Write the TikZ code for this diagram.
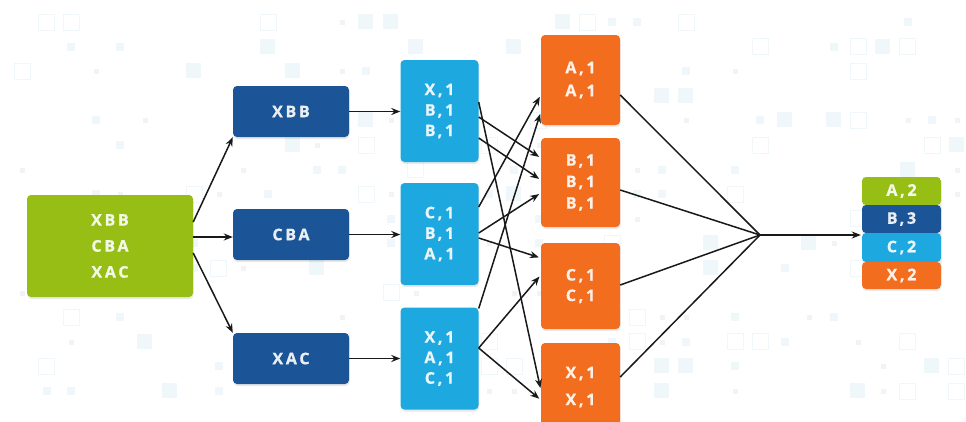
\documentclass[tikz,border=0pt]{standalone}
\usepackage{fontspec}
\setmainfont{Open Sans}
\newfontfamily\boxfont[LetterSpace=17, BoldFeatures={FakeBold=0.6}]{Open Sans}
\usetikzlibrary{arrows.meta,shadows}

\definecolor{mrgreen}{HTML}{96BE14}
\definecolor{mrnavy}{HTML}{1B5597}
\definecolor{mrsky}{HTML}{1DA8E0}
\definecolor{mrorange}{HTML}{F36D1F}
\definecolor{tilesky}{HTML}{EFF7FB}
\definecolor{tilegray}{HTML}{F2F3F4}

\tikzset{
  softshadow/.style={drop shadow={shadow xshift=0.5pt, shadow yshift=-2pt,
      opacity=0.12, fill=black!70}},
  box/.style={rounded corners=4pt, inner sep=0pt, align=center,
    text=white, text opacity=0.9,
    font=\boxfont\bfseries\fontsize{16}{20.5}\selectfont, softshadow},
  srcbox/.style={box, fill=mrgreen, minimum width=166pt, minimum height=102pt},
  wordbox/.style={box, fill=mrnavy, minimum width=116pt, minimum height=51pt},
  mapbox/.style={box, fill=mrsky, minimum width=78pt, minimum height=102pt},
  keybox/.style={box, fill=mrorange, minimum width=79pt},
  lbl/.style={inner sep=0pt, text=white, text opacity=0.9,
    font=\boxfont\bfseries\fontsize{16}{20.5}\selectfont},
  wire/.style={draw=black!90, line width=1.5pt},
  conn/.style={wire, -{Stealth[length=9pt,width=7pt]}},
  cross/.style={conn, shorten >=2pt},
}

\begin{document}
\begin{tikzpicture}[x=1pt,y=-1pt]
\clip (0,0) rectangle (966,421);
\fill[white] (0,0) rectangle (966,421);

% faint tiled backdrop
\pgfmathsetseed{314}
\foreach \i in {0,...,38}{
  \foreach \j in {0,...,15}{
    \pgfmathrandominteger{\r}{0}{13}
    \pgfmathsetmacro{\px}{14+\i*24.6}
    \pgfmathsetmacro{\py}{14+\j*24.6}
    \ifnum\r=0 \fill[tilesky] (\px,\py) rectangle ++(15,15);\fi
    \ifnum\r=1 \fill[tilegray] (\px+6,\py+6) rectangle ++(5,5);\fi
    \ifnum\r=2 \draw[tilesky,line width=1pt] (\px,\py) rectangle ++(16,16);\fi
    \ifnum\r=3 \fill[tilesky] (\px+4,\py+4) rectangle ++(8,8);\fi
  }
}

% input
\node[srcbox] (src) at (110,246) {XBB\\[5.5pt]CBA\\[5.5pt]XAC};

% split records
\node[wordbox] (d1) at (291,111.5) {XBB};
\node[wordbox] (d2) at (291,234.5) {CBA};
\node[wordbox] (d3) at (291,358.5) {XAC};

% map output
\node[mapbox] (m1) at (439.5,111) {X,1\\B,1\\B,1};
\node[mapbox] (m2) at (439.5,234) {C,1\\B,1\\A,1};
\node[mapbox] (m3) at (439.5,358.5) {X,1\\A,1\\C,1};

% shuffled groups
\node[keybox, minimum height=90pt] (k1) at (580.5,80) {A,1\\[2.5pt]A,1};
\node[keybox, minimum height=89pt] (k2) at (580.5,182.5) {B,1\\[1pt]B,1\\[1pt]B,1};
\node[keybox, minimum height=86pt] (k3) at (580.5,286) {C,1\\C,1};
\node[keybox, minimum height=88pt] (k4) at (580.5,387) {X,1\\[6.5pt]X,1};

% reduced result
\node[rounded corners=4pt, minimum width=79pt, minimum height=112pt, inner sep=0pt,
  softshadow,
  path picture={
    \fill[mrgreen] (path picture bounding box.north west) rectangle ([yshift=-28pt]path picture bounding box.north east);
    \fill[mrnavy] ([yshift=-28pt]path picture bounding box.north west) rectangle ([yshift=-56pt]path picture bounding box.north east);
    \fill[mrsky] ([yshift=-56pt]path picture bounding box.north west) rectangle ([yshift=-85pt]path picture bounding box.north east);
    \fill[mrorange] ([yshift=-85pt]path picture bounding box.north west) rectangle (path picture bounding box.south east);
  }] (res) at (901.5,233) {};
\node[lbl] (r1) at (901.5,191) {A,2};
\node[lbl] (r2) at (901.5,219) {B,3};
\node[lbl] (r3) at (901.5,247.5) {C,2};
\node[lbl] (r4) at (901.5,275.5) {X,2};

% split
\draw[conn] ([yshift=24pt]src.east) -- (d1.south west);
\draw[conn] ([yshift=9pt]src.east) -- ([yshift=-2.5pt]d2.west);
\draw[conn] ([yshift=-7pt]src.east) -- (d3.north west);

% map
\draw[conn] (d1.east) -- (d1.east -| m1.west);
\draw[conn] (d2.east) -- (d2.east -| m2.west);
\draw[conn] (d3.east) -- (d3.east -| m3.west);

% shuffle
\draw[cross] ([yshift=9pt]m1.east) -- ([yshift=-3pt]k4.west);
\draw[cross] ([yshift=-6pt]m1.east) -- ([yshift=24.5pt]k2.west);
\draw[cross] ([yshift=-27pt]m1.east) -- ([yshift=2.5pt]k2.west);
\draw[cross] ([yshift=27pt]m2.east) -- ([yshift=-15pt]k1.west);
\draw[cross] ([yshift=1pt]m2.east) -- ([yshift=-10.5pt]k2.west);
\draw[cross] ([yshift=-4pt]m2.east) -- ([yshift=28pt]k3.west);
\draw[cross] ([yshift=50pt]m3.east) -- ([yshift=-32pt]k1.west);
\draw[cross] ([yshift=10.5pt]m3.east) -- ([yshift=11pt]k3.west);
\draw[cross] ([yshift=10.5pt]m3.east) -- ([yshift=-13pt]k4.west);

% reduce
\coordinate (hub) at (760,235);
\draw[wire] ([yshift=-15pt]k1.east) -- (hub);
\draw[wire] ([yshift=-7.5pt]k2.east) -- (hub);
\draw[wire] ([yshift=1pt]k3.east) -- (hub);
\draw[wire] ([yshift=10pt]k4.east) -- (hub);
\draw[conn, shorten >=1pt] (hub) -- ([yshift=-2pt]res.west);
\end{tikzpicture}
\end{document}
